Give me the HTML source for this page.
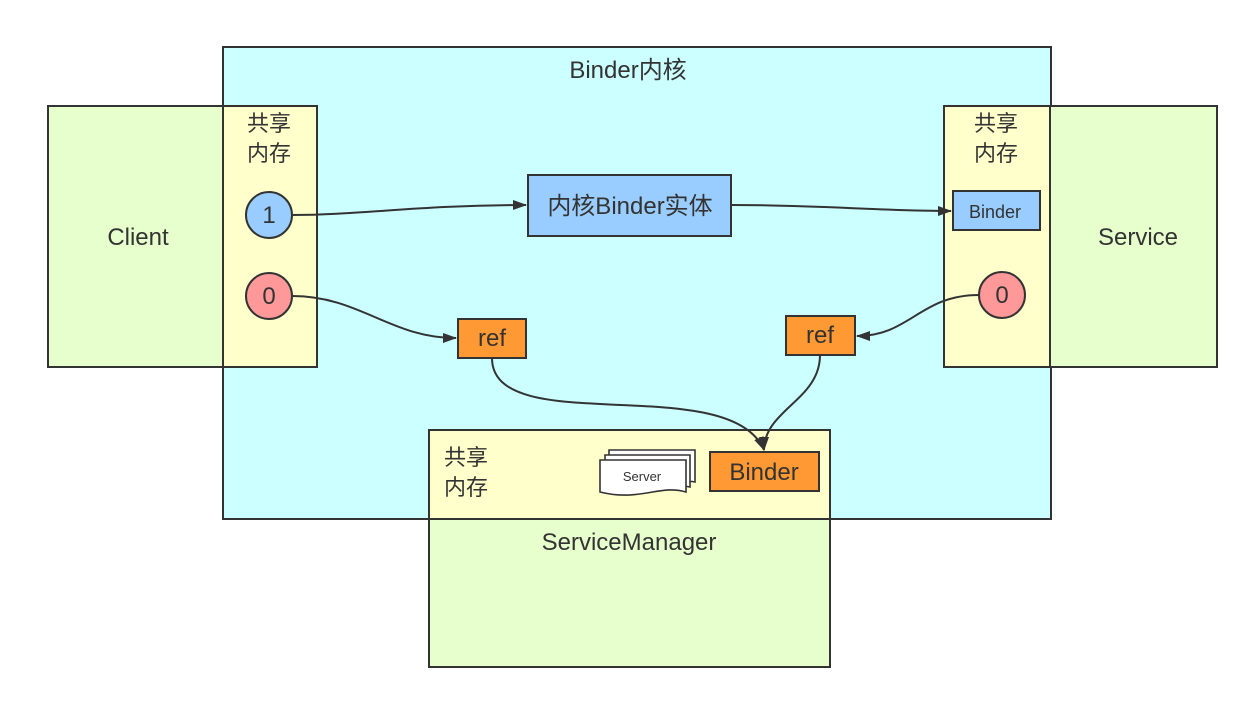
<!DOCTYPE html>
<html><head><meta charset="utf-8"><style>body{margin:0;background:#fff}</style></head><body>
<svg width="1248" height="698" xmlns="http://www.w3.org/2000/svg" font-family="'Liberation Sans','Noto Sans CJK SC',sans-serif">
<defs><marker id="a" markerWidth="14" markerHeight="10" refX="13" refY="5" orient="auto" markerUnits="userSpaceOnUse"><path d="M0,0 L14,5 L0,10 Z" fill="#333"/></marker></defs>
<g stroke="#333" stroke-width="2">
<rect x="223" y="47" width="828" height="472" fill="#ccffff"/>
<rect x="48" y="106" width="175" height="261" fill="#e6ffcc"/>
<rect x="223" y="106" width="94" height="261" fill="#ffffcc"/>
<rect x="1050" y="106" width="167" height="261" fill="#e6ffcc"/>
<rect x="944" y="106" width="106" height="261" fill="#ffffcc"/>
<rect x="429" y="519" width="401" height="148" fill="#e6ffcc"/>
<rect x="429" y="430" width="401" height="89" fill="#ffffcc"/>
<circle cx="269" cy="215" r="23" fill="#99ccff"/>
<circle cx="269" cy="296" r="23" fill="#ff9999"/>
<circle cx="1002" cy="295" r="23" fill="#ff9999"/>
<rect x="528" y="175" width="203" height="61" fill="#99ccff"/>
<rect x="953" y="191" width="87" height="39" fill="#99ccff"/>
<rect x="458" y="319" width="68" height="39" fill="#ff9933"/>
<rect x="786" y="316" width="69" height="39" fill="#ff9933"/>
<rect x="710" y="452" width="109" height="39" fill="#ff9933"/>
<g fill="#fff" stroke-width="1.6">
<path d="M609,450 L695,450 L695,482 C680,478 665,492 609,484 Z"/>
<path d="M605,455 L690,455 L690,487 C675,483 660,497 605,489 Z"/>
<path d="M600,460 L686,460 L686,492 C660,484 640,502 600,492 Z"/>
</g>
</g>
<g stroke="#333" stroke-width="2" fill="none">
<path d="M292,215 C360,215 420,205 526,205" marker-end="url(#a)"/>
<path d="M732,205 C820,205 880,211 951,211" marker-end="url(#a)"/>
<path d="M292,296 C360,296 390,338 456,338" marker-end="url(#a)"/>
<path d="M979,295 C920,295 910,336 857,336" marker-end="url(#a)"/>
<path d="M492,358 C492,440 730,370 764,450" marker-end="url(#a)"/>
<path d="M820,355 C820,400 764,410 764,450" marker-end="url(#a)"/>
</g>
<g fill="#333" font-size="24" text-anchor="middle">
<text x="628" y="78">Binder内核</text>
<text x="138" y="245">Client</text>
<text x="1138" y="245">Service</text>
<text x="629" y="550">ServiceManager</text>
<text x="269" y="223">1</text>
<text x="269" y="304">0</text>
<text x="1002" y="303">0</text>
<text x="630" y="214">内核Binder实体</text>
<text x="492" y="346">ref</text>
<text x="820" y="343">ref</text>
<text x="764" y="480">Binder</text>
<text x="995" y="218" font-size="18">Binder</text>
<text x="642" y="481" font-size="13">Server</text>
<text x="269" y="131" font-size="22">共享</text>
<text x="269" y="161" font-size="22">内存</text>
<text x="996" y="131" font-size="22">共享</text>
<text x="996" y="161" font-size="22">内存</text>
<text x="466" y="465" font-size="22">共享</text>
<text x="466" y="495" font-size="22">内存</text>
</g>
</svg>
</body></html>
